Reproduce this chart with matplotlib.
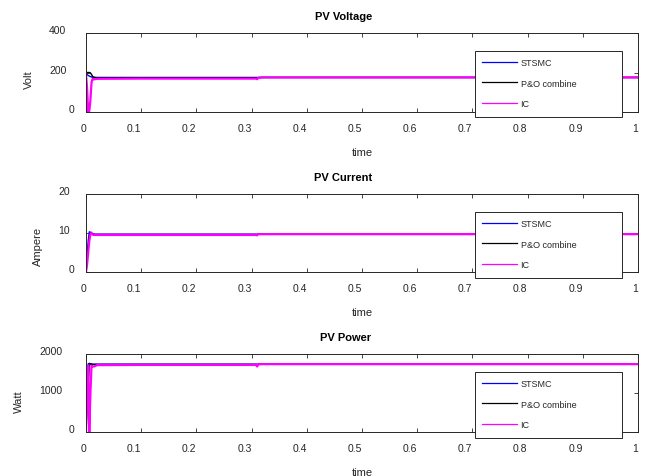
import matplotlib
matplotlib.use("Agg")
import matplotlib.pyplot as plt
from matplotlib.lines import Line2D
from matplotlib.patches import Rectangle
from matplotlib.transforms import ScaledTranslation

plt.rcParams['font.family'] = ['Liberation Sans', 'DejaVu Sans']

# simulation time (s), shared by all traces
t = [0, 0.002, 0.004, 0.006, 0.008, 0.010, 0.012, 0.014, 0.016, 0.018,
     0.02, 0.1, 0.2, 0.3, 0.308, 0.31, 0.312, 0.32, 0.5, 1.0]

# PV voltage (V)
volt_stsmc = [195, 190, 185, 182, 179, 177, 176, 175, 175, 175,
              175, 175, 175, 175, 175, 175, 175, 175, 175, 175]
volt_po = [200, 200, 200, 200, 198, 190, 180, 176, 175, 174,
           173, 173, 173, 173, 173, 170, 174, 175, 175, 175]
volt_ic = [190, 120, 0, 5, 60, 150, 168, 165, 166, 167,
           168, 169, 169, 169, 169, 166, 173, 175, 175, 175]

# PV current (A)
cur_stsmc = [0, 4, 8, 10.3, 10.2, 9.9, 9.8, 9.7, 9.7, 9.7,
             9.7, 9.7, 9.7, 9.7, 9.7, 9.7, 9.7, 9.7, 9.7, 9.7]
cur_po = [0, 3, 6, 9, 10, 9.9, 9.7, 9.7, 9.6, 9.6,
          9.6, 9.6, 9.6, 9.6, 9.6, 9.5, 9.7, 9.7, 9.7, 9.7]
cur_ic = [0, 2, 5, 8, 9.8, 10.1, 9.6, 9.5, 9.5, 9.5,
          9.5, 9.5, 9.5, 9.5, 9.5, 9.4, 9.7, 9.7, 9.7, 9.7]

# PV power (W)
pow_stsmc = [0, 1500, 1750, 1760, 1750, 1745, 1740, 1740, 1740, 1740,
             1740, 1740, 1740, 1740, 1740, 1740, 1740, 1740, 1740, 1740]
pow_po = [0, 600, 1200, 1700, 1750, 1740, 1730, 1730, 1730, 1730,
          1730, 1730, 1730, 1730, 1730, 1700, 1740, 1740, 1740, 1740]
pow_ic = [0, 900, 1700, 0, 1000, 1700, 1680, 1680, 1690, 1700,
          1715, 1720, 1720, 1720, 1720, 1680, 1735, 1740, 1740, 1740]

titles = ["PV Voltage", "PV Current", "PV Power"]
ylabels = ["Volt", "Ampere", "Watt"]
yticks = [[0, 200, 400], [0, 10, 20], [0, 1000, 2000]]
xticks = [0, 0.1, 0.2, 0.3, 0.4, 0.5, 0.6, 0.7, 0.8, 0.9, 1]
xticklabels = ["0", "0.1", "0.2", "0.3", "0.4", "0.5", "0.6", "0.7", "0.8", "0.9", "1"]
names = ["STSMC", "P&O combine", "IC"]
colors = ["#0000ff", "#000000", "#ff00ff"]

data = [(volt_stsmc, volt_po, volt_ic),
        (cur_stsmc, cur_po, cur_ic),
        (pow_stsmc, pow_po, pow_ic)]

W, H = 646, 477
fig = plt.figure(figsize=(W / 100, H / 100), dpi=100)

# axes boxes in pixels: (top, bottom)
boxes = [(34, 113), (195, 273), (355, 433)]
legend_tops = [52, 213, 373]
legend_h = 66
ax_left, ax_right = 86, 638
leg_left, leg_w = 475, 147
edge = "#262626"

axes = []
for i, (top, bot) in enumerate(boxes):
    ax = fig.add_axes([ax_left / W, 1 - bot / H, (ax_right - ax_left) / W, (bot - top) / H])
    axes.append(ax)
    for series, c, lw in zip(data[i], colors, [1.0, 1.0, 1.6]):
        ax.plot(t, series, color=c, lw=lw)
    ax.set_xlim(0, 1)
    ax.set_ylim(yticks[i][0], yticks[i][-1])
    ax.set_xticks(xticks)
    ax.set_xticklabels(xticklabels)
    ax.set_yticks(yticks[i])
    ax.tick_params(direction="in", top=True, right=True, length=3, width=0.6,
                   color=edge, labelcolor=edge, labelsize=7.5)
    ax.tick_params(axis="x", pad=8)
    ax.tick_params(axis="y", pad=6)
    for s in ax.spines.values():
        s.set_color(edge)
        s.set_linewidth(0.7)
    ax.set_title(titles[i], fontsize=8, fontweight="bold", pad=10)
    ax.set_xlabel("time", fontsize=8, color=edge, labelpad=10)
    ax.set_ylabel(ylabels[i], fontsize=8, color=edge, labelpad=11)

    # legend box, hanging a little below the axes
    ax.add_patch(Rectangle((leg_left / W, 1 - (legend_tops[i] + legend_h) / H),
                           leg_w / W, legend_h / H, transform=fig.transFigure,
                           facecolor="white", edgecolor=edge, lw=0.7,
                           zorder=4.9, clip_on=False))
    handles = [Line2D([], [], color=c, lw=0.9) for c in colors]
    leg = ax.legend(handles, names, loc="upper left",
                    bbox_to_anchor=(leg_left / W, 1 - legend_tops[i] / H, leg_w / W, 0),
                    bbox_transform=fig.transFigure, mode="expand", borderaxespad=0,
                    frameon=False, fontsize=6.5,
                    handlelength=3.8, handletextpad=0.45, labelspacing=1.25,
                    borderpad=0.8)
    for txt in leg.get_texts():
        txt.set_color(edge)

# text placement nudges, scaled by rendered width
fig.canvas.draw()
renderer = fig.canvas.get_renderer()


def nudge(text, dx, dy):
    text.set_transform(text.get_transform()
                       + ScaledTranslation(dx / fig.dpi, dy / fig.dpi, fig.dpi_scale_trans))


for ax in axes:
    for lab in ax.get_yticklabels():
        w = lab.get_window_extent(renderer).width
        nudge(lab, -0.65 * w, 4)
    for lab in ax.get_xticklabels():
        w = lab.get_window_extent(renderer).width
        nudge(lab, -0.5 * w, 0)
    h = ax.yaxis.label.get_window_extent(renderer).height
    nudge(ax.yaxis.label, 0, -0.325 * h)
    w = ax.title.get_window_extent(renderer).width
    nudge(ax.title, -0.325 * w, 0)

fig.savefig("out.png", dpi=100)
